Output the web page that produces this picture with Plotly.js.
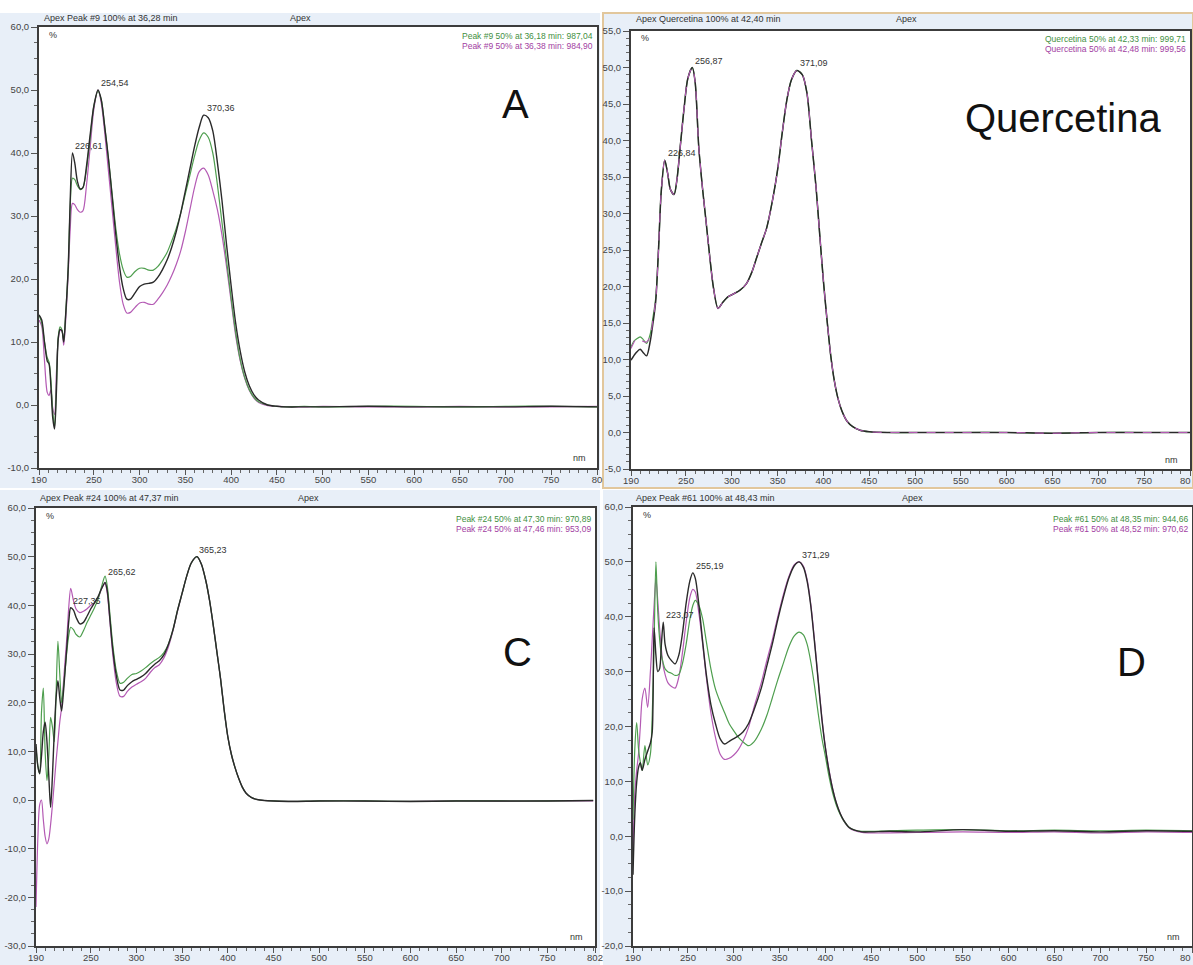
<!DOCTYPE html>
<html><head><meta charset="utf-8">
<script src="https://cdn.plot.ly/plotly-3.0.1.min.js"></script>
<style>html,body{margin:0;padding:0;background:#fff}#chart{width:1193px;height:965px}</style>
</head><body><div id="chart"></div>
<script>
// ---------- DATA ----------
const nmA = [190,193,196,199,201,203,205,207,209,211,213,215,217,219,222,224,226.6,229,232,235,238,242,246,250,254.5,258,262,266,270,274,278,282,286,290,295,300,305,310,315,320,325,330,335,340,345,350,355,360,365,370,375,380,385,390,395,400,405,410,415,420,425,430,440,450,460,480,500,550,600,650,700,750,800];
const blackA = [14.3,13.5,10,7,6.5, 3,-2,-3.8,2,10.5, 12,11.8,10,14,22, 32,40,38.5,35.5,34.3, 34.5,38,43,47.5,50, 48.5,44,39,33,27, 22,18.5,16.8,16.8,17.8, 18.8,19.2,19.3,19.5,20.3, 21.5,23,25,27.5,30.5, 34,37.5,41,44,46, 45.6,43.5,38.5,32.5,25.5, 19,13,8.5,5.2,3, 1.6,0.8,0,-0.2,-0.3, -0.3,-0.3,-0.2,-0.3,-0.3, -0.3,-0.2,-0.3];
const greenA = [14.3,13,10,7.5,6.8, 4,-1,-3.5,3,10.8, 12.4,12,10.2,14,22, 31,36,35.8,34.8,34.2, 34.5,37.5,42.5,47.5,49.8, 48.5,44,39,33.5,28, 24,21.5,20.3,20.4,21.2, 21.7,21.7,21.4,21.4,22, 23,24.2,26,28,30.5, 33.5,36.5,39.5,42,43.2, 42.5,40,35,29,23, 17,11.5,7.2,4.3,2.4, 1.2,0.5,0,-0.2,-0.3, -0.2,-0.3,-0.2,-0.2,-0.3, -0.2,-0.2,-0.3];
const purpleA = [13.5,12.5,7,2,1.5, 2.4,-0.5,-1.5,5,10.3, 11.8,11.8,9.5,13,21, 27.5,32,31.8,31,30.6, 30.8,35,41,47,50, 48,43,37,31,25, 19.5,16,14.6,14.7,15.5, 16.2,16.3,16,16,16.8, 17.8,19,20.5,22.3,24.5, 27.5,31,34.5,37,37.6, 36.5,34,31,27,22, 16.5,11,7,4.2,2.3, 1.1,0.4,-0.1,-0.2,-0.3, -0.3,-0.2,-0.3,-0.3,-0.2, -0.3,-0.3,-0.2];

const nmB = [190,193,196,200,203,207,211,214,217,220,223,226.8,230,233,237,240,244,248,252,256.9,260,264,268,272,276,280,285,290,296,302,309,316,322,327,332,338,345,350,355,360,365,371,377,382,387,392,396,400,404,408,412,416,420,426,432,440,450,470,500,550,600,650,700,750,800];
const blackB = [9.9,10.5,11,11.4,11, 10.5,12.5,15,18,25, 33,37.3,35.5,33.3,32.6, 34.5,39.5,44.5,48.5,50, 48,39,33.5,28.8,24, 19.8,17,17.8,18.6,19, 19.5,20.4,22,23.9,25.8, 28,32.2,36,41,45.5, 48.3,49.6,49,46.5,40, 33.5,27,20.7,15.3,10.5, 7,4.6,3,1.5,0.8, 0.3,0.1,0,0,0, 0,-0.1,0,0,0];
const greenB = [11.7,12.5,12.8,13.1,12.8, 12.2,13.5,15.8,18.5,25, 33,37.3,35.5,33.3,32.6, 34.5,39.5,44.5,48.5,50, 48,39,33.5,28.8,24, 19.8,17,17.8,18.6,19, 19.5,20.4,22,23.9,25.8, 28,32.2,36,41,45.5, 48.3,49.6,49,46.5,40, 33.5,27,20.7,15.3,10.5, 7,4.6,3,1.5,0.8, 0.3,0.1,0,0,0, 0,-0.1,0,0,0];
const purpleB = [11.5,12.3,12.9,12.8,12.5, 12.4,13.2,15.5,18.2,25, 33,37.3,35.5,33.3,32.6, 34.5,39.5,44.5,48.5,50, 48,39,33.5,28.8,24, 19.8,17,17.8,18.6,19, 19.5,20.4,22,23.9,25.8, 28,32.2,36,41,45.5, 48.3,49.6,49,46.5,40, 33.5,27,20.7,15.3,10.5, 7,4.6,3,1.5,0.8, 0.3,0.1,0,0,0, 0,-0.1,0,0,0];

const nmC = [190,192,194,196,198,200,202,204,206,208,210,212,214,216,218,220,222,224,226,228,231,234,238,242,246,250,254,258,262,265.6,268,271,274,278,282,286,290,295,300,305,310,315,320,325,330,335,340,345,350,355,360,366.2,371,376,380,384,388,392,396,400,404,408,412,416,420,426,432,440,450,470,500,550,600,650,700,750,800];
const blackC = [11.5,7,5.4,9,14, 16,12,5,-1.5,5, 14,21,24.5,21,18.3, 22,27,32,37,39.5, 39,37.5,36.2,36.5,37.8, 39.3,40.5,41.8,43.5,44.7, 43,37,31,25.5,22.6, 22.6,23.5,24.3,24.8,25.3, 26,27,27.9,28.6,29.8, 32,35,39,42.5,46, 48.7,50,48.5,45,41, 36,30.5,25,18.5,13, 9.3,6.6,4.4,2.6,1.4, 0.5,0.1,-0.1,-0.2,-0.3, -0.2,-0.2,-0.3,-0.2,-0.2, -0.2,-0.1];
const greenC = [10.9,7,5.4,18,23, 10,4,9,17,15, 12,22,32.6,26,20, 23,27,31,34,35.5, 35,34,33.5,34.8,36.5, 38,39.5,41.3,44,46, 44,38,32,26.5,24, 24.2,25,25.8,26,26.5, 27.2,28,28.7,29.3,30.3, 32,35,39,42.5,46, 48.7,50,48.5,45,41, 36,30.5,25,18.5,13, 9.3,6.6,4.4,2.6,1.4, 0.5,0.1,-0.1,-0.2,-0.3, -0.2,-0.2,-0.3,-0.2,-0.2, -0.2,-0.1];
const purpleC = [-22,-8,-1,0,-4, -7.5,-9,-8,-5,-1, 3.5,8,12,16,19, 24,29,34,40,43.5, 41,39.2,38.5,38.8,39.3, 40,40.5,41.5,43.5,44.5, 42.5,36.5,30,24,21.3, 21.3,22.3,23.2,23.8,24.3, 25,26.2,27.2,27.8,29.2, 31.5,34.8,38.8,42.5,46, 48.7,50,48.5,45,41, 36,30.5,25,18.5,13, 9.3,6.6,4.4,2.6,1.4, 0.5,0.1,-0.1,-0.2,-0.3, -0.2,-0.3,-0.3,-0.2,-0.3, -0.2,-0.2];

const nmD = [190,192,194,196,198,200,203,206,209,211,213,215,217,219,221,223,225,228,232,236,240,244,248,252,255.2,258,262,266,270,275,280,285,290,295,300,305,310,316,322,330,336,342,348,354,360,366,371.3,376,380,384,388,392,396,400,404,408,412,416,420,426,432,440,450,470,500,550,600,650,700,750,800];
const blackD = [-7,4,9.8,12.5,13.4, 12,14,15.5,17,19, 38,33,30,30.5,35, 39,35,33,32,31.4, 33,37,42.5,46.5,48, 47,42,35.5,29.5,24, 20.5,17.8,16.8,17.3,17.8, 18.3,19,20.5,23,27, 31,35,39.5,43.5,47, 49.3,50,49,46.5,42, 35.5,28.5,21.5,16,11.8, 8.5,6,4.2,2.9,1.6, 1.1,0.8,0.8,0.9,0.8, 1.2,0.9,1,0.8,1, 0.9];
const greenD = [3,16,20.7,16,13.5, 12,16.5,13,15,22, 35,50,41,36,33, 31.5,30.5,30,29.7,29.3, 29.5,31.5,35,39.5,42, 43,42,39.6,35.5,30.5, 26.8,24.5,22.5,20.5,19.2, 18,17.2,16.5,17.2,19.5, 22,25.2,28.5,31.5,34.5, 36.5,37.2,36.7,35,31.8, 27.5,22.5,18,14.5,10.8, 7.8,5.6,4,2.8,1.6, 1.1,0.9,0.9,1,1.1, 1.2,1,1.1,1,1.1, 1];
const purpleD = [-3,8,12,15,20, 25,27,23.5,30,36, 42,47,43,38,34, 31,29.5,28,27.3,27, 29,33.5,39,43.5,45, 44.5,40.5,35,29,22.5, 18,15,14,14.2,14.8, 15.8,17.3,19.8,23.5,28, 32,35.8,40,44,47.3, 49.5,50,49.2,46.8,42.3, 35.8,28.8,21.8,16.2,12, 8.6,6,4.2,2.8,1.5, 1,0.7,0.6,0.6,0.7, 0.8,0.7,0.8,0.6,0.8, 0.7];

const xTickVals = [190,250,300,350,400,450,500,550,600,650,700,750,800];
const xTickText = ['190','250','300','350','400','450','500','550','600','650','700','750','80'];
const xTickTextRight = ['190','250','300','350','400','450','500','550','600','650','700','750',''];
const xEdgeLabel = '80';
const xTickValsC = [190,250,300,350,400,450,500,550,600,650,700,750,802];
const xTickTextC = ['190','250','300','350','400','450','500','550','600','650','700','750','802'];
const yTickValsA = [-10,0,10,20,30,40,50,60];
const yTickTextA = ['-10,0','0,0','10,0','20,0','30,0','40,0','50,0','60,0'];
const yTickValsB = [-5,0,5,10,15,20,25,30,35,40,45,50,55];
const yTickTextB = ['-5,0','0,0','5,0','10,0','15,0','20,0','25,0','30,0','35,0','40,0','45,0','50,0','55,0'];
const yTickValsC = [-30,-20,-10,0,10,20,30,40,50,60];
const yTickTextC = ['-30,0','-20,0','-10,0','0,0','10,0','20,0','30,0','40,0','50,0','60,0'];
const yTickValsD = [-20,-10,0,10,20,30,40,50,60];
const yTickTextD = ['-20,0','-10,0','0,0','10,0','20,0','30,0','40,0','50,0','60,0'];

const headers = ['Apex Peak #9 100% at 36,28 min','Apex Quercetina 100% at 42,40 min','Apex Peak #24 100% at 47,37 min','Apex Peak #61 100% at 48,43 min'];
const legendGreen = ['Peak #9 50% at 36,18 min: 987,04','Quercetina 50% at 42,33 min: 999,71','Peak #24 50% at 47,30 min: 970,89','Peak #61 50% at 48,35 min: 944,66'];
const legendPurple = ['Peak #9 50% at 36,38 min: 984,90','Quercetina 50% at 42,48 min: 999,56','Peak #24 50% at 47,46 min: 953,09','Peak #61 50% at 48,52 min: 970,62'];
const bigLabels = ['A','Quercetina','C','D'];
const peakLabelsA = [['254,54',254.54,50],['226,61',226.61,40],['370,36',370.36,46]];
const peakLabelsB = [['256,87',256.87,50],['226,84',226.84,37.3],['371,09',371.09,49.6]];
const peakLabelsC = [['227,35',227.35,39.5],['265,62',265.62,45.5],['365,23',365.23,50]];
const peakLabelsD = [['255,19',255.19,48],['223,07',223.07,39],['371,29',371.29,50]];

// ---------- LAYOUT ----------
const W = 1193, H = 965;
const PX = v => v / W, PY = v => 1 - v / H;
const FONT = 'Liberation Sans, Arial, sans-serif';
const BLACK = '#2a2a2a', GREEN = '#4e9e4e', PURPLE = '#b45ab4';

const panels = [
  {box:{l:39,r:597,t:27,b:468}, bg:{x0:0,x1:600,y0:13,y1:488}, xr:[190,800], yr:[-10,60], xv:xTickVals, xt:xTickText, edge:false, yv:yTickValsA, yt:yTickTextA, ymin:2.5,
   nm:nmA, k:blackA, g:greenA, p:purpleA, peaks:peakLabelsA, hdrX:42, hdrY:18, apexX:300, legX:595, legY:36, big:[515,104], pct:[47,35], nmt:[588,458]},
  {box:{l:631,r:1190,t:31,b:469}, bg:{x0:603,x1:1193,y0:13,y1:488}, xr:[190,800], yr:[-5,55], xv:xTickVals, xt:xTickTextRight, edge:true, yv:yTickValsB, yt:yTickTextB, ymin:1,
   nm:nmB, k:blackB, g:greenB, p:purpleB, peaks:peakLabelsB, hdrX:634, hdrY:19, apexX:906, legX:1188, legY:39, big:[1063,118], pct:[639,38], nmt:[1180,460]},
  {box:{l:36,r:595,t:508,b:946}, bg:{x0:0,x1:600,y0:490,y1:965}, xr:[190,802], yr:[-30,60], xv:xTickValsC, xt:xTickTextC, edge:false, yv:yTickValsC, yt:yTickTextC, ymin:2.5,
   nm:nmC, k:blackC, g:greenC, p:purpleC, peaks:peakLabelsC, hdrX:38, hdrY:498, apexX:308, legX:593, legY:519, big:[517,652], pct:[44,516], nmt:[585,937]},
  {box:{l:633,r:1192,t:507,b:946}, bg:{x0:603,x1:1193,y0:490,y1:965}, xr:[190,800], yr:[-20,60], xv:xTickVals, xt:xTickTextRight, edge:true, yv:yTickValsD, yt:yTickTextD, ymin:2.5,
   nm:nmD, k:blackD, g:greenD, p:purpleD, peaks:peakLabelsD, hdrX:634, hdrY:498, apexX:912, legX:1190, legY:519, big:[1131,662], pct:[641,515], nmt:[1182,937]}
];

const traces = [], shapes = [], annotations = [];
const layout = {
  width: W, height: H, margin:{l:0,r:0,t:0,b:0},
  paper_bgcolor:'#ffffff', plot_bgcolor:'#ffffff', showlegend:false,
  font:{family:FONT, color:'#333'}
};

panels.forEach((P, i) => {
  const n = i === 0 ? '' : String(i + 1);
  const xa = 'x' + n, ya = 'y' + n;
  layout['xaxis' + n] = {
    domain:[PX(P.box.l), PX(P.box.r)], range:P.xr, anchor:ya,
    tickmode:'array', tickvals:P.xv, ticktext:P.xt,
    ticks:'outside', ticklen:5, tickwidth:1, tickcolor:'#555',
    ticklabelstandoff:-3, ticklabeloverflow:'allow',
    minor:{tickmode:'linear', tick0:190, dtick:10, ticks:'outside', ticklen:3, tickcolor:'#666'},
    showline:true, mirror:true, linecolor:'#3c3c3c', linewidth:2,
    showgrid:false, zeroline:false, fixedrange:true,
    tickfont:{family:FONT, size:9.5, color:'#444'}
  };
  layout['yaxis' + n] = {
    domain:[PY(P.box.b), PY(P.box.t)], range:P.yr, anchor:xa,
    tickmode:'array', tickvals:P.yv, ticktext:P.yt,
    ticks:'outside', ticklen:6, tickwidth:1, tickcolor:'#555',
    ticklabeloverflow:'allow',
    minor:{tickmode:'linear', tick0:0, dtick:P.ymin, ticks:'outside', ticklen:3, tickcolor:'#666'},
    showline:true, mirror:true, linecolor:'#3c3c3c', linewidth:2,
    showgrid:false, zeroline:false, fixedrange:true,
    tickfont:{family:FONT, size:9.5, color:'#444'}
  };
  // panel background + white plot area
  shapes.push({type:'rect', xref:'paper', yref:'paper', layer:'below',
    x0:PX(P.bg.x0), x1:PX(P.bg.x1), y0:PY(P.bg.y1), y1:PY(P.bg.y0),
    fillcolor:'#e8eff8', line:{width: i === 1 ? 2 : 0, color:'#e2c79c'}});
  shapes.push({type:'rect', xref:'paper', yref:'paper', layer:'below',
    x0:PX(P.box.l), x1:PX(P.box.r), y0:PY(P.box.b), y1:PY(P.box.t),
    fillcolor:'#ffffff', line:{width:0}});

  const mk = (y, color, w, dash) => ({
    x:P.nm, y:y, xaxis:xa, yaxis:ya, type:'scatter', mode:'lines',
    line:{color:color, width:w, shape:'spline', smoothing:0.8, dash:dash || 'solid'},
    hoverinfo:'skip'
  });
  if (i === 1) {
    traces.push(mk(P.g, GREEN, 1.2), mk(P.k, BLACK, 1.5), mk(P.p, PURPLE, 1.1, 'dash'));
  } else {
    traces.push(mk(P.p, PURPLE, 1.2), mk(P.g, GREEN, 1.2), mk(P.k, BLACK, 1.4));
  }

  // right-edge x label (kept inside the picture)
  if (P.edge) {
    annotations.push({xref:'paper', yref:'paper', x:1, y:PY(P.box.b + 11), xanchor:'right', yanchor:'middle',
      text:xEdgeLabel, showarrow:false, font:{family:FONT, size:9.5, color:'#444'}});
  }
  // header texts
  annotations.push({xref:'paper', yref:'paper', x:PX(P.hdrX), y:PY(P.hdrY), xanchor:'left', yanchor:'middle',
    text:headers[i], showarrow:false, font:{family:FONT, size:9, color:'#333'}});
  annotations.push({xref:'paper', yref:'paper', x:PX(P.apexX), y:PY(P.hdrY), xanchor:'center', yanchor:'middle',
    text:'Apex', showarrow:false, font:{family:FONT, size:9, color:'#333'}});
  // legend texts
  annotations.push({xref:'paper', yref:'paper', x:PX(P.legX), y:PY(P.legY), xanchor:'right', yanchor:'middle',
    text:legendGreen[i], showarrow:false, font:{family:FONT, size:8.5, color:'#3f8f3f'}});
  annotations.push({xref:'paper', yref:'paper', x:PX(P.legX), y:PY(P.legY + 10), xanchor:'right', yanchor:'middle',
    text:legendPurple[i], showarrow:false, font:{family:FONT, size:8.5, color:'#a23ea2'}});
  // big label
  annotations.push({xref:'paper', yref:'paper', x:PX(P.big[0]), y:PY(P.big[1]), xanchor:'center', yanchor:'middle',
    text:bigLabels[i], showarrow:false, font:{family:FONT, size:40, color:'#111'}});
  // % and nm
  annotations.push({xref:'paper', yref:'paper', x:PX(P.pct[0]), y:PY(P.pct[1]), xanchor:'left', yanchor:'middle',
    text:'%', showarrow:false, font:{family:FONT, size:9, color:'#333'}});
  annotations.push({xref:'paper', yref:'paper', x:PX(P.nmt[0]), y:PY(P.nmt[1]), xanchor:'right', yanchor:'middle',
    text:'nm', showarrow:false, font:{family:FONT, size:9, color:'#333'}});
  // peak labels
  P.peaks.forEach(pk => {
    annotations.push({xref:xa, yref:ya, x:pk[1], y:pk[2], xanchor:'left', yanchor:'bottom', xshift:1,
      text:pk[0], showarrow:false, font:{family:FONT, size:9, color:'#333'}});
  });
});

layout.shapes = shapes;
layout.annotations = annotations;
Plotly.newPlot('chart', traces, layout, {displayModeBar:false, staticPlot:true});
</script></body></html>
